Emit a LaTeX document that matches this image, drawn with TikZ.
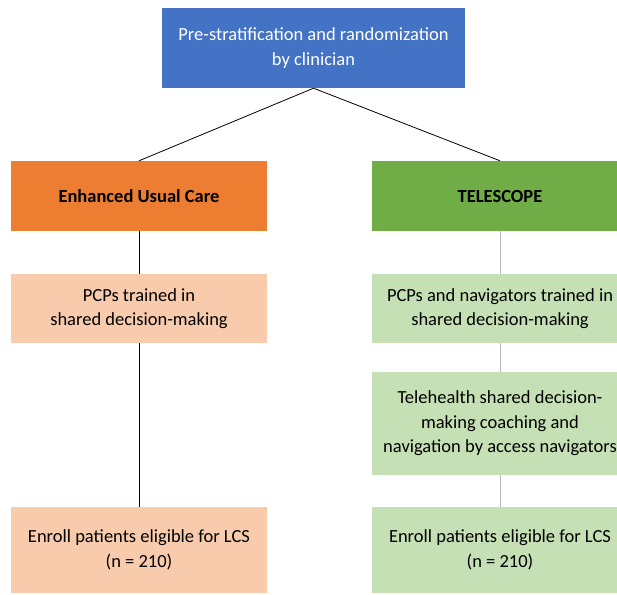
\documentclass[tikz,border=0pt]{standalone}
\usepackage{fontspec}
\setmainfont{Carlito}
\usetikzlibrary{positioning}
\definecolor{topblue}{HTML}{4472C4}
\definecolor{armorange}{HTML}{ED7D31}
\definecolor{armgreen}{HTML}{70AD47}
\definecolor{paleorange}{HTML}{F8CBAD}
\definecolor{palegreen}{HTML}{C5E0B4}
\begin{document}
\begin{tikzpicture}[x=1pt,y=-1pt,
    every node/.style={font=\fontsize{18.5}{24.5}\selectfont, align=center, inner sep=0pt},
    box/.style={minimum width=256pt},
    link/.style={line width=0.8pt}]
    \useasboundingbox (0,0) rectangle (617,594);
    \clip (0,0) rectangle (617,594);
    % randomization
        \node[fill=topblue, text=white, minimum width=303pt, minimum height=80pt] (rand) at (313.5,48) {Pre-stratification and randomization\\by clinician};
    % arms
        \node[box, fill=armorange, minimum height=70pt] (euc) at (139,196) {\textbf{Enhanced Usual Care}};
        \node[box, fill=armgreen, minimum height=70pt] (tel) at (500,196) {\textbf{TELESCOPE}};
    % training
        \node[box, fill=paleorange, minimum height=69pt] (pcpeuc) at (139,308.5) {PCPs trained in\\shared decision-making};
        \node[box, fill=palegreen, minimum height=69pt] (pcptel) at (500,308.5) {PCPs and navigators trained in\\shared decision-making};
        \node[box, fill=palegreen, minimum height=103pt] (coach) at (500,423.5) {Telehealth shared decision-\\making coaching and\\navigation by access navigators};
    % enrollment
        \node[box, fill=paleorange, minimum height=86pt] (enreuc) at (139,550) {Enroll patients eligible for LCS\\(n = 210)};
        \node[box, fill=palegreen, minimum height=86pt] (enrtel) at (500,550) {Enroll patients eligible for LCS\\(n = 210)};
    % connectors
        \draw[link] (rand.south) -- (euc.north);
        \draw[link] (rand.south) -- (tel.north);
        \draw[link] (euc) -- (pcpeuc);
        \draw[link] (pcpeuc) -- (enreuc);
        \draw[link, gray!55] (tel) -- (pcptel);
        \draw[link, gray!55] (pcptel) -- (coach);
        \draw[link, gray!55] (coach) -- (enrtel);
\end{tikzpicture}
\end{document}
